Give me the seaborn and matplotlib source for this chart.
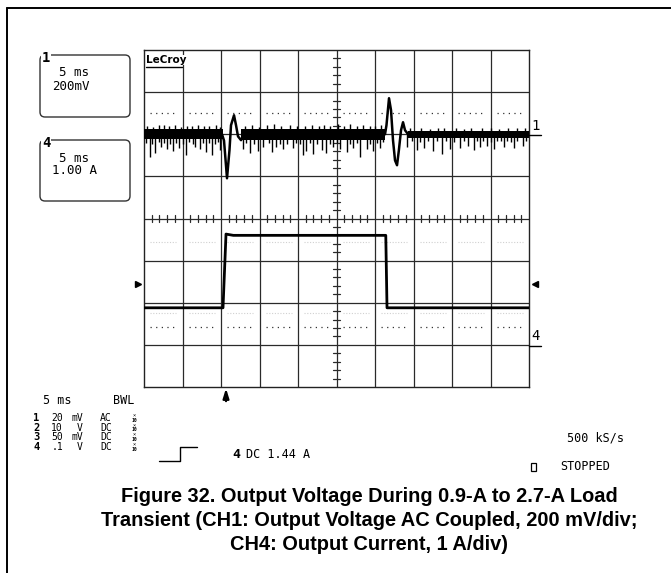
import matplotlib
matplotlib.use("Agg")
import matplotlib.pyplot as plt
from matplotlib.patches import FancyBboxPatch, Rectangle
import pandas as pd
import seaborn as sns

# ---- data ----
# time base 5 ms/div, 10 div
t_max = 50
# CH1: output voltage, AC coupled (ms, mV), 200 mV/div, zero at div 6
ch1_t = [0, 10.13, 10.39, 10.78, 11.1, 11.3, 11.69, 11.95, 12.21, 12.6, 12.99,
         31.3, 31.49, 31.82, 32.08, 32.34, 32.6, 32.86, 33.1, 33.38, 33.64, 33.9, 34.3, 50]
ch1_mv = [0, 0, -30, -209, -76, 43, 90, 43, -10, -28, 0,
          0, 43, 171, 114, -29, -124, -147, -76, 19, 57, 19, 0, 0]
# noise band on CH1 (segments start/end in ms, low / high in mV)
band_start = [0, 12.6, 34.3]
band_end = [10.2, 31.3, 50]
band_lo = [-24, -27, -20]
band_hi = [24, 26, 17]
# downward noise spikes on CH1
spike_t = [0.78, 1.43, 2.2, 2.95, 3.8, 4.6, 5.5, 6.6, 7.3, 8.1, 8.8, 9.87,
           12.9, 13.8, 14.8, 15.5, 16.6, 17.2, 18.1, 19.3, 20.7, 21.1, 22.0, 23.1,
           23.7, 24.6, 25.5, 26.3, 27.2, 28.1, 28.9, 29.8, 30.6,
           34.1, 35.4, 36.3, 37.5, 38.7, 39.7, 41.0, 42.1, 42.8, 43.6, 44.5, 45.4,
           46.7, 48.0, 49.2]
spike_mv = [-109, -90, -60, -70, -80, -65, -100, -60, -70, -85, -100, -75,
            -70, -90, -80, -60, -85, -60, -70, -65, -100, -80, -95, -75,
            -90, -60, -70, -85, -65, -110, -70, -80, -65,
            -60, -75, -65, -80, -95, -70, -65, -55, -75, -60, -55, -70,
            -60, -65, -55]
# short ragged spikes below the band
small_dn_t = [0.3, 1.1, 1.9, 2.6, 3.4, 4.2, 5.0, 5.9, 6.3, 7.7, 8.4, 9.2, 9.6,
              13.3, 14.3, 16.2, 17.7, 18.6, 19.8, 20.3, 21.6, 22.5, 24.2, 25.0,
              26.8, 27.7, 29.3, 30.2, 31.0,
              34.8, 35.9, 36.9, 38.1, 39.2, 40.3, 41.5, 43.2, 44.0, 45.0, 45.9,
              46.3, 47.2, 47.6, 48.5, 49.6]
small_dn_mv = [-40, -45, -38, -42, -48, -40, -44, -38, -45, -42, -40, -46, -38,
               -42, -45, -40, -44, -48, -42, -45, -40, -46, -44, -42,
               -45, -40, -44, -42, -38,
               -32, -35, -30, -34, -32, -36, -30, -34, -32, -35, -30,
               -33, -31, -35, -30, -32]
# upward noise spikes on CH1
up_t = [0.4, 1.2, 2.0, 2.6, 3.3, 4.0, 4.8, 5.6, 6.2, 7.0, 7.8, 8.5, 9.3, 9.9,
        13.1, 14.0, 14.9, 16.0, 16.9, 17.8, 19.0, 19.9, 20.9, 21.8, 22.7,
        23.4, 24.2, 25.2, 26.0, 26.8, 27.6, 28.5, 29.4, 30.0, 30.8,
        34.6, 36.0, 37.1, 38.2, 39.0, 40.5, 41.6, 42.5, 43.9, 45.0, 46.1,
        47.3, 48.5, 49.5]
up_mv = [40, 36, 42, 45, 38, 44, 36, 40, 38, 46, 37, 40, 42, 36,
         38, 44, 36, 42, 48, 37, 45, 40, 38, 46, 40,
         44, 38, 48, 40, 50, 38, 44, 40, 38, 42,
         28, 30, 27, 32, 28, 30, 26, 31, 28, 30, 27,
         30, 28, 29]
# CH4: output current (ms, A), 1 A/div, zero at div 1
ch4_t = [0, 10.26, 10.65, 11.6, 31.4, 31.56, 50]
ch4_a = [0.88, 0.88, 2.63, 2.60, 2.60, 0.88, 0.88]
trig_t = 10.65
trig_a = 1.44
# dotted traces of the other channels (divisions from bottom)
ref_div = [6.5, 1.43]
faint_div = [3.44, 1.76]

# channel setup table at the bottom
ch_num = ["1", "2", "3", "4"]
ch_val = ["20", "10", "50", ".1"]
ch_unit = ["mV", "V", "mV", "V"]
ch_cpl = ["AC", "DC", "DC", "DC"]

caption = ["Figure 32. Output Voltage During 0.9-A to 2.7-A Load",
           "Transient (CH1: Output Voltage AC Coupled, 200 mV/div;",
           "CH4: Output Current, 1 A/div)"]

# ---- figure ----
W, H = 671, 573
sns.set_style("white")
plt.rcParams["font.family"] = ["DejaVu Sans Mono"]
plt.rcParams["text.color"] = "black"
fig = plt.figure(figsize=(W / 100, H / 100), dpi=100)

ax = fig.add_axes([144 / W, 1 - 387 / H, 385 / W, 337 / H])
ax.set_xlim(0, t_max)
ax.set_ylim(0, 8)
ax.set_xticks([])
ax.set_yticks([])
for s in ax.spines.values():
    s.set_color("#222222")
    s.set_linewidth(1.0)

gc = "#2a2a2a"
for i in range(1, 10):
    ax.axvline(i * 5, color=gc, lw=0.9)
for j in range(1, 8):
    ax.axhline(j, color=gc, lw=0.9)
# minor ticks on the centre cross
for k in range(1, 50):
    if k % 5:
        ax.plot([k, k], [4 - 0.08, 4 + 0.08], color=gc, lw=0.9)
for k in range(1, 40):
    if k % 5:
        ax.plot([25 - 0.45, 25 + 0.45], [k / 5, k / 5], color=gc, lw=0.9)

# dotted traces
for lvl in ref_div:
    for i in range(10):
        ax.plot([i * 5 + 0.8, i * 5 + 4.2], [lvl, lvl], color="#333333", lw=0.9,
                ls=(0, (1, 3.5)))
for lvl in faint_div:
    for i in range(10):
        ax.plot([i * 5 + 0.8, i * 5 + 4.2], [lvl, lvl], color="#d0d0d0", lw=0.8,
                ls=(0, (1, 1.5)))

# CH1 on its own scale
axv = ax.twinx()
axv.set_ylim(-1200, 400)
for a, b, lo, hi in zip(band_start, band_end, band_lo, band_hi):
    axv.fill_between([a, b], [lo, lo], [hi, hi], color="black", lw=0)
axv.vlines(spike_t, spike_mv, 0, color="black", lw=1.0)
axv.vlines(small_dn_t, small_dn_mv, 0, color="black", lw=1.0)
axv.vlines(up_t, 0, up_mv, color="black", lw=1.0)
df1 = pd.DataFrame({"t": ch1_t, "v": ch1_mv})
sns.lineplot(data=df1, x="t", y="v", ax=axv, color="black", lw=1.8,
             estimator=None, sort=False)
axv.set_xlim(0, t_max)
axv.axis("off")

# CH4 on its own scale
axi = ax.twinx()
axi.set_ylim(-1, 7)
df4 = pd.DataFrame({"t": ch4_t, "i": ch4_a})
sns.lineplot(data=df4, x="t", y="i", ax=axi, color="black", lw=2.0,
             estimator=None, sort=False)
axi.plot([-0.8], [trig_a], marker=">", ms=4, color="black", clip_on=False)
axi.plot([t_max + 0.8], [trig_a], marker="<", ms=4, color="black", clip_on=False)
axi.annotate("", xy=(trig_t, -0.004), xycoords=("data", "axes fraction"),
             xytext=(trig_t, -0.042), textcoords=("data", "axes fraction"),
             arrowprops=dict(arrowstyle="-|>,head_width=0.22,head_length=0.7",
                             color="black", lw=1.6, mutation_scale=8,
                             shrinkA=0, shrinkB=0))
axi.set_xlim(0, t_max)
axi.axis("off")

# ---- overlay in pixel coordinates for annotations ----
ov = fig.add_axes([0, 0, 1, 1], zorder=5)
ov.set_xlim(0, W)
ov.set_ylim(H, 0)
ov.axis("off")
ov.patch.set_alpha(0)

ov.plot([7, 7], [8, H], color="black", lw=1.4)
ov.plot([7, W], [8, 8], color="black", lw=1.4)

fs = 9
for top, bot, lab, l1, l2 in [(55, 117, "1", "5 ms", "200mV"),
                             (140, 201, "4", "5 ms", "1.00 A")]:
    ov.add_patch(FancyBboxPatch((40, top), 90, bot - top,
                                boxstyle="round,pad=0,rounding_size=5",
                                fc="none", ec="#333333", lw=1.0))
    ov.text(46, top + 3, lab, fontsize=10, fontweight="bold", ha="center", va="center",
            bbox=dict(fc="white", ec="none", pad=0.6))
    ov.text(59, top + 18, l1, fontsize=fs, va="center")
    ov.text(52, top + 31, l2, fontsize=fs, va="center")

ov.text(146, 60, "LeCroy", fontsize=7.5, fontweight="bold", va="center",
        family="DejaVu Sans", bbox=dict(fc="white", ec="none", pad=0.3))
ov.plot([146, 182], [67, 67], color="black", lw=1.0)

# channel markers on the right
ov.text(531, 126, "1", fontsize=10, va="center")
ov.plot([529, 541], [134.5, 134.5], color="black", lw=1.0)
ov.text(531, 336, "4", fontsize=10, va="center")
ov.plot([529, 541], [345.5, 345.5], color="black", lw=1.0)

# bottom status block
fs2 = 8.5
fs3 = 7
ov.text(43, 400, "5 ms", fontsize=fs2, va="center")
ov.text(113, 400, "BWL", fontsize=fs2, va="center")
for r, (n, v, u, c) in enumerate(zip(ch_num, ch_val, ch_unit, ch_cpl)):
    y = 418 + r * 9.6
    ov.text(33, y, n, fontsize=fs3 + 0.5, fontweight="bold", va="center")
    ov.text(63, y, v, fontsize=fs3, va="center", ha="right")
    ov.text(83, y, u, fontsize=fs3, va="center", ha="right")
    ov.text(100, y, c, fontsize=fs3, va="center")
    ov.text(134, y - 2.0, "×", fontsize=3.8, va="center", ha="center")
    ov.text(134, y + 2.3, "10", fontsize=3.4, va="center", ha="center",
            fontweight="bold")

ov.plot([159, 180, 180, 197], [461, 461, 447, 447], color="black", lw=1.0)
ov.text(232, 454, "4", fontsize=fs2 + 1, fontweight="bold", va="center")
ov.text(246, 454, "DC 1.44 A", fontsize=fs2, va="center")
ov.text(567, 438, "500 kS/s", fontsize=fs2, va="center")
ov.add_patch(Rectangle((530.5, 462.5), 5, 8, fc="none", ec="black", lw=0.9))
ov.text(560, 467, "STOPPED", fontsize=fs2, va="center")

for k, line in enumerate(caption):
    ov.text(369, 496 + k * 24.5, line, fontsize=14.4, fontweight="bold",
            ha="center", va="center", color="black",
            family=["Liberation Sans", "DejaVu Sans"])

fig.savefig("out.png", dpi=100)
